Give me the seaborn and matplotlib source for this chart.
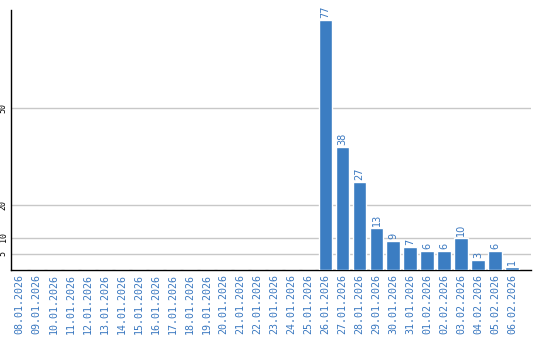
import matplotlib
matplotlib.use("Agg")
import matplotlib.pyplot as plt
import seaborn as sns
import pandas as pd

dates = ["08.01.2026", "09.01.2026", "10.01.2026", "11.01.2026", "12.01.2026",
         "13.01.2026", "14.01.2026", "15.01.2026", "16.01.2026", "17.01.2026",
         "18.01.2026", "19.01.2026", "20.01.2026", "21.01.2026", "22.01.2026",
         "23.01.2026", "24.01.2026", "25.01.2026", "26.01.2026", "27.01.2026",
         "28.01.2026", "29.01.2026", "30.01.2026", "31.01.2026", "01.02.2026",
         "02.02.2026", "03.02.2026", "04.02.2026", "05.02.2026", "06.02.2026"]
values = [0, 0, 0, 0, 0, 0, 0, 0, 0, 0, 0, 0, 0, 0, 0, 0, 0, 0,
          77, 38, 27, 13, 9, 7, 6, 6, 10, 3, 6, 1]
yticks = [5, 10, 20, 50]

sns.set_style("white")
plt.rcParams['font.family'] = ['DejaVu Sans']

bar_color = "#3b7dc2"
text_color = "#3a78c0"

df = pd.DataFrame({"date": dates, "value": values})

fig = plt.figure(figsize=(5.4, 3.4), dpi=100)
ax = fig.add_axes([10.5 / 540, 70 / 340, (531 - 10.5) / 540, 260 / 340])

sns.barplot(data=df, x="date", y="value", color=bar_color, width=0.82,
            saturation=1, ax=ax, zorder=3)

ax.set_ylim(0, 80)
ax.set_xlim(-0.55, 30.1)
ax.set_yticks(yticks)
ax.set_yticklabels([str(t) for t in yticks], rotation=90, fontsize=6,
                   family="DejaVu Sans Mono", va="center", color="black")
ax.tick_params(axis="y", length=0, pad=2)
ax.tick_params(axis="x", length=0, pad=3)
ax.set_xticks(range(len(dates)))
ax.set_xticklabels(dates, rotation=90, fontsize=7.2, color=text_color,
                   family="DejaVu Sans Mono")
ax.grid(axis="y", color="#c8c8c8", linewidth=1, zorder=0)
ax.set_axisbelow(True)
ax.set_xlabel("")
ax.set_ylabel("")

for s in ["top", "right"]:
    ax.spines[s].set_visible(False)
for s in ["left", "bottom"]:
    ax.spines[s].set_color("black")
    ax.spines[s].set_linewidth(1.0)

for i, v in enumerate(values):
    if v > 0:
        ax.text(i, v + 0.6, str(v), rotation=90, ha="center", va="bottom",
                fontsize=7, color=text_color)

fig.savefig("out.png", dpi=100)
